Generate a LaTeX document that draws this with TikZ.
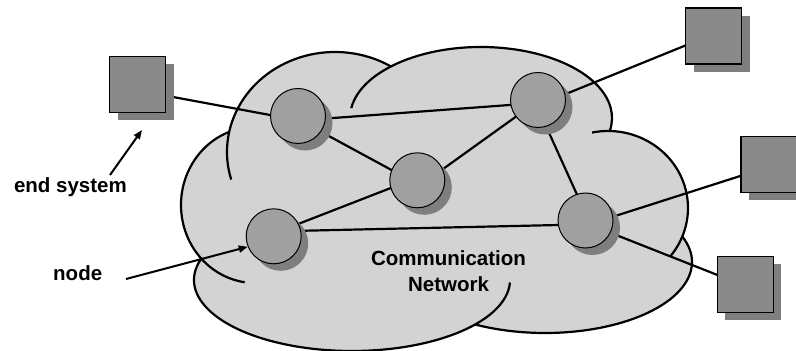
\documentclass[tikz,border=0pt]{standalone}
\usepackage{fontspec}
\setmainfont{Liberation Sans}
\usetikzlibrary{calc,shadows,arrows.meta}
\pgfdeclarelayer{cloud}
\pgfdeclarelayer{edges}
\pgfsetlayers{cloud,edges,main}
\definecolor{cloudgray}{RGB}{211,211,211}
\definecolor{nodegray}{RGB}{160,160,160}
\definecolor{sqgray}{RGB}{138,138,138}
\definecolor{shadowgray}{RGB}{126,126,126}
\begin{document}
\begin{tikzpicture}[x=1pt,y=1pt,
  cloudline/.style={line width=2.2pt, draw=black},
  link/.style={line width=2.2pt, draw=black},
  pointer/.style={line width=2pt, -{Triangle[length=9pt,width=7pt]}},
  router/.style={circle, draw=black, line width=1pt, fill=nodegray, minimum size=55pt, inner sep=0pt,
    drop shadow={shadow xshift=7pt, shadow yshift=-7pt, fill=shadowgray, opacity=1}},
  endsys/.style={rectangle, draw=black, line width=1.2pt, fill=sqgray, minimum size=56pt, inner sep=0pt,
    drop shadow={shadow xshift=8pt, shadow yshift=-8pt, fill=shadowgray, opacity=1}},
  lbl/.style={font=\bfseries\fontsize{20.5pt}{24pt}\selectfont, inner sep=0pt}]
\useasboundingbox (0,0) rectangle (796,351);

% ---------- cloud ----------
\begin{pgfonlayer}{cloud}
\fill[cloudgray] (240,201) -- (350,241) -- (480,251) -- (600,211) -- (660,131) -- (600,51)
  -- (450,31) -- (300,31) -- (220,91) -- cycle;
% bottom-right lobe
\fill[cloudgray] (545,89) ellipse [x radius=147, y radius=71];
\draw[cloudline] (545,89) ++(30:147 and 71) arc[start angle=30, end angle=-125, x radius=147, y radius=71];
% bottom lobe
\fill[cloudgray] (352,71) ellipse [x radius=158, y radius=71];
\draw[cloudline] (352,71) ++(160:158 and 71) arc[start angle=160, end angle=358, x radius=158, y radius=71];
% left lobe
\fill[cloudgray] (255,146) ellipse [x radius=74, y radius=78];
\draw[cloudline] (255,146) ++(100:74 and 78) arc[start angle=100, end angle=262, x radius=74, y radius=78];
% top-left lobe
\fill[cloudgray] (335,199) ellipse [x radius=108, y radius=100];
\draw[cloudline] (335,199) ++(196:108 and 100) arc[start angle=196, end angle=45, x radius=108, y radius=100];
% top-right lobe
\fill[cloudgray] (481,233) ellipse [x radius=131, y radius=71];
\draw[cloudline] (481,233) ++(172:131 and 71) arc[start angle=172, end angle=-15, x radius=131, y radius=71];
% right lobe
\fill[cloudgray] (608,143) ellipse [x radius=80, y radius=77];
\draw[cloudline] (608,143) ++(101.5:80 and 77) arc[start angle=101.5, end angle=-39, x radius=80, y radius=77];
\end{pgfonlayer}

% ---------- end systems ----------
\node[endsys] (S1) at (137.5,266.5) {};
\node[endsys] (S2) at (713.5,315) {};
\node[endsys] (S3) at (769,186.5) {};
\node[endsys] (S4) at (745.3,66.5) {};

% ---------- network nodes ----------
\node[router] (A) at (298,235) {};
\node[router] (B) at (538,251) {};
\node[router] (C) at (417.3,170.7) {};
\node[router] (D) at (273.7,114.7) {};
\node[router] (E) at (585.5,130.5) {};

% ---------- links ----------
\begin{pgfonlayer}{edges}
\draw[link] ($(S1)+(0,-5.9)$) -- ($(A)+(0,-4.2)$);
\draw[link] ($(A)+(0,-4.6)$) -- ($(B)+(0,-2.9)$);
\draw[link] ($(A)+(0,-3.3)$) -- ($(C)+(0,-3.7)$);
\draw[link] ($(B)+(0,-0.8)$) -- ($(C)+(0,-7.2)$);
\draw[link] ($(B)+(-3.8,0)$) -- ($(E)+(3.2,0)$);
\draw[link] ($(C)+(0,2.6)$) -- ($(D)+(0,2.8)$);
\draw[link] ($(D)+(0,4.9)$) -- ($(E)+(0,-3.9)$);
\draw[link] ($(B)+(0,-5.3)$) -- ($(S2)+(0,1.9)$);
\draw[link] ($(E)+(0,-5)$) -- ($(S3)+(0,-2.3)$);
\draw[link] ($(E)+(0,-2.4)$) -- ($(S4)+(0,-1.5)$);
\end{pgfonlayer}

% ---------- labels ----------
\node[lbl, anchor=base east] (lblES) at (127,158) {end system};
\node[lbl, anchor=base west] (lblNode) at (53,70) {node};
\node[lbl, anchor=base] (lblComm) at (448.5,85) {Communication};
\node[lbl, anchor=base] (lblNet) at (448.5,59) {Network};

\coordinate (esTail) at (110,176);
\coordinate (esTip) at (142,221);
\coordinate (ndTail) at (126,72);
\draw[pointer] (esTail) -- (esTip);
\draw[pointer] (ndTail) -- (D.202);
\end{tikzpicture}
\end{document}
